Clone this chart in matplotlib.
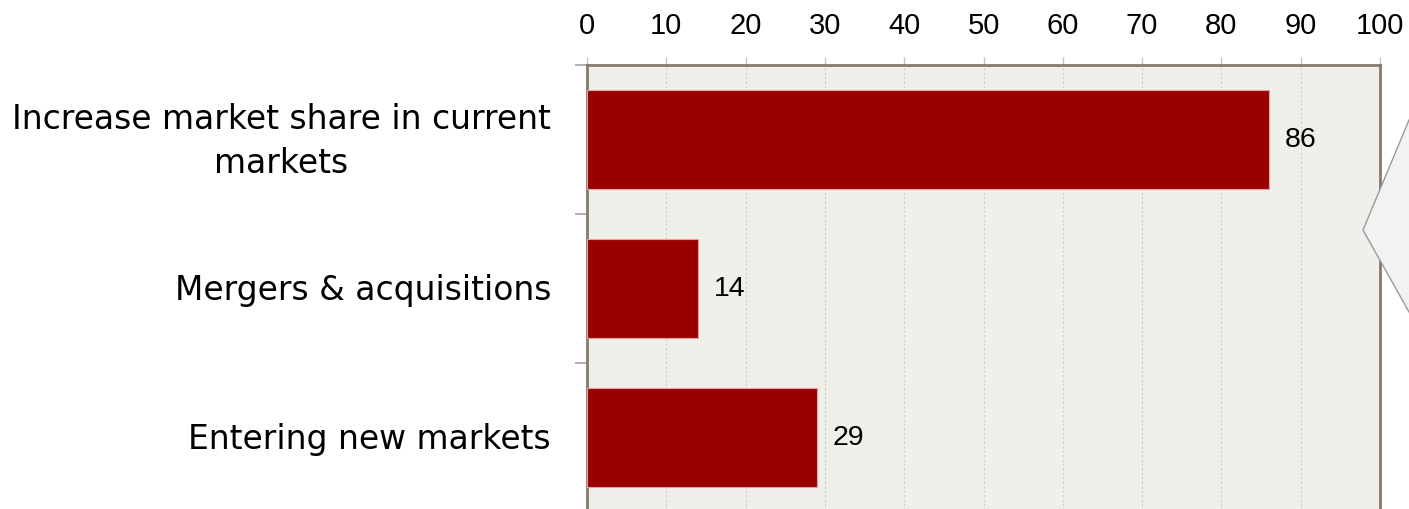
import matplotlib
matplotlib.use("Agg")
import matplotlib.pyplot as plt
from matplotlib.patches import Polygon

# survey answers, in percent
categories = ["Increase market share in current\nmarkets",
              "Mergers & acquisitions",
              "Entering new markets"]
values = [86, 14, 29]
xticks = [0, 10, 20, 30, 40, 50, 60, 70, 80, 90, 100]

W, H = 1409, 509
fig = plt.figure(figsize=(W / 100, H / 100), dpi=100)
ax = fig.add_axes([587 / W, -3 / H, 793 / W, 447 / H])
ax.set_facecolor("#f0efea")

pos = list(range(len(categories)))
ax.barh(pos, values, height=0.66, color="#990000", edgecolor="#e8a0a0",
        linewidth=0.8, zorder=3)
for p, v in zip(pos, values):
    ax.text(v + 2, p, str(v), va="center", ha="left", fontsize=20.5,
            family="Liberation Sans", color="black", zorder=4)

ax.set_xlim(0, 100)
ax.set_ylim(len(categories) - 0.5, -0.5)

# numbers along the top
ax.xaxis.tick_top()
ax.set_xticks(xticks)
ax.set_xticklabels([str(t) for t in xticks], fontsize=21, family="Liberation Sans")
ax.tick_params(axis="x", direction="out", length=6, width=1, color="#c8c4bc", pad=12)
ax.grid(axis="x", color="#d2d0c4", linestyle=(0, (2, 2)), linewidth=0.8, zorder=1)

# separator ticks between categories
ax.set_yticks([p - 0.5 for p in pos])
ax.set_yticklabels([])
ax.tick_params(axis="y", direction="out", length=9, width=1.2, color="#a8a09a")

# category names, right aligned left of the axis
for p, name in zip(pos, categories):
    ax.annotate(name, xy=(0, p), xycoords=("axes fraction", "data"),
                xytext=(-26, -1.5), textcoords="offset points",
                ha="right", va="center", multialignment="center",
                fontsize=23.7, family="DejaVu Sans", linespacing=1.4)

for side in ["left", "top", "right"]:
    ax.spines[side].set_color("#857a70")
    ax.spines[side].set_linewidth(2)
ax.spines["bottom"].set_visible(False)

# callout shape on the right edge
tip = Polygon([[1363 / W, 1 - 230 / H], [1409 / W, 1 - 120 / H], [1.02, 1 - 120 / H],
               [1.02, 1 - 312 / H], [1409 / W, 1 - 312 / H]],
              closed=True, transform=fig.transFigure, facecolor="#f2f2f2",
              edgecolor="#9a9a9a", linewidth=1, zorder=10)
fig.patches.append(tip)

fig.savefig("out.png", dpi=100)
